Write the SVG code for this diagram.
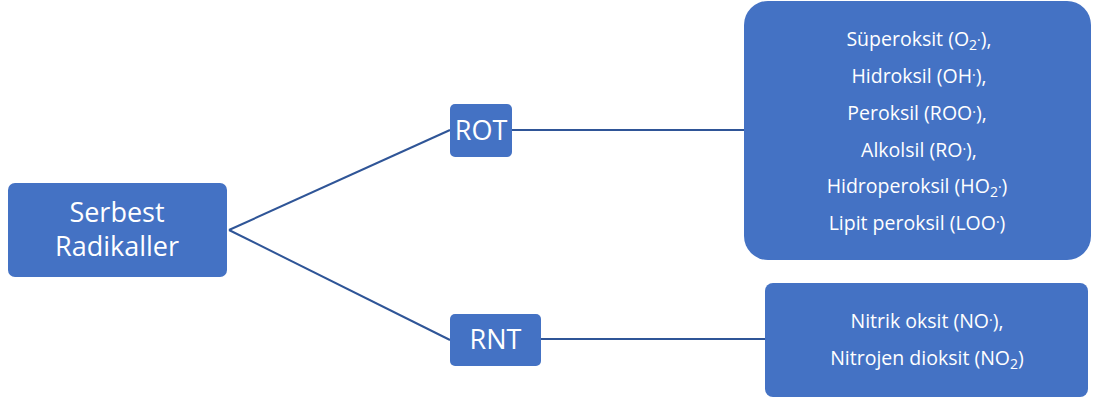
<svg xmlns="http://www.w3.org/2000/svg" width="1093" height="401" viewBox="0 0 1093 401">
<style>
.box{fill:#4472C4;}
.t{fill:#fff;font-family:"Open Sans","Liberation Sans",sans-serif;text-anchor:middle;}
.big{font-size:27px;}
.sm{font-size:19.5px;}
.dot{font-size:14px;}
.sub{font-size:14px;}
.c{stroke:#2F5597;stroke-width:2;fill:none;}
</style>
<rect width="1093" height="401" fill="#fff"/>
<g id="connectors">
<path class="c" d="M229,230 L450,130"/>
<path class="c" d="M229,230 L450,340"/>
<path class="c" d="M512,130 L744,130"/>
<path class="c" d="M541,339 L765,339"/>
</g>
<g id="serbest">
<rect class="box" x="8" y="183" width="219" height="94" rx="7"/>
<text class="t big" x="117" y="222">Serbest</text>
<text class="t big" x="117" y="256">Radikaller</text>
</g>
<g id="rot">
<rect class="box" x="450" y="104" width="62" height="53" rx="5"/>
<text class="t big" x="481" y="140">ROT</text>
</g>
<g id="rnt">
<rect class="box" x="450" y="314" width="91" height="52" rx="5"/>
<text class="t big" x="495.5" y="349">RNT</text>
</g>
<g id="rot-list">
<rect class="box" x="744" y="1" width="347" height="259" rx="24"/>
<text class="t sm" x="919" y="46">Süperoksit (O<tspan class="sub" dy="4">2</tspan><tspan class="dot" dy="-5">·</tspan><tspan dy="1">),</tspan></text>
<text class="t sm" x="919" y="83">Hidroksil (OH<tspan class="dot" dy="-3">·</tspan><tspan dy="3">),</tspan></text>
<text class="t sm" x="917" y="120">Peroksil (ROO<tspan class="dot" dy="-3">·</tspan><tspan dy="3">),</tspan></text>
<text class="t sm" x="919" y="157">Alkolsil (RO<tspan class="dot" dy="-3">·</tspan><tspan dy="3">),</tspan></text>
<text class="t sm" x="917" y="193">Hidroperoksil (HO<tspan class="sub" dy="4">2</tspan><tspan class="dot" dy="-5">·</tspan><tspan dy="1">)</tspan></text>
<text class="t sm" x="917" y="230">Lipit peroksil (LOO<tspan class="dot" dy="-3">·</tspan><tspan dy="3">)</tspan></text>
</g>
<g id="rnt-list">
<rect class="box" x="765" y="283" width="323" height="114" rx="8"/>
<text class="t sm" x="927" y="328">Nitrik oksit (NO<tspan class="dot" dy="-3">·</tspan><tspan dy="3">),</tspan></text>
<text class="t sm" x="927" y="365">Nitrojen dioksit (NO<tspan class="sub" dy="4">2</tspan><tspan dy="-4">)</tspan></text>
</g>
</svg>
